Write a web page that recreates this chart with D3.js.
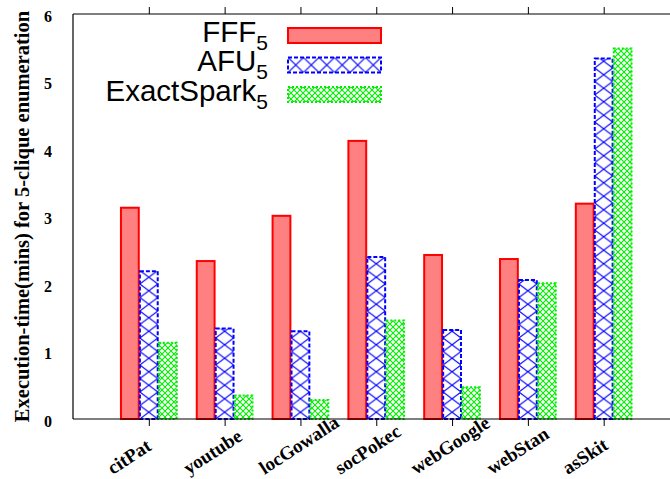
<!DOCTYPE html>
<html>
<head>
<meta charset="utf-8">
<script src="https://cdn.jsdelivr.net/npm/d3@7"></script>
<style>
  html, body { margin: 0; padding: 0; background: #fff; }
  svg { display: block; }
</style>
</head>
<body>
<svg id="chart" width="670" height="479"></svg>
<script>
// Datasets along the x axis
const categories = ["citPat", "youtube", "locGowalla", "socPokec", "webGoogle", "webStan", "asSkit"];
// Execution time in minutes for each method
const fffValues   = [3.13, 2.34, 3.01, 4.12, 2.43, 2.37, 3.19];
const afuValues   = [2.19, 1.34, 1.30, 2.40, 1.32, 2.06, 5.34];
const exactValues = [1.13, 0.35, 0.28, 1.46, 0.47, 2.01, 5.49];
// Legend names (main part + subscript)
const seriesNames = [["FFF", "5"], ["AFU", "5"], ["ExactSpark", "5"]];
const yTicks = [0, 1, 2, 3, 4, 5, 6];
const yLabel = "Execution-time(mins) for 5-clique enumeration";

const svg = d3.select("#chart");
const plotLeft = 73, plotRight = 679.5, plotTop = 14, plotBottom = 419;

const x = d3.scaleLinear().domain([0, 8]).range([plotLeft, plotRight]);
const y = d3.scaleLinear().domain([0, 6]).range([plotBottom, plotTop]);

const barW = x(0.235) - x(0);
const defs = svg.append("defs");

// Cross-hatch pattern anchored at a given origin, one X per cell
function crossPattern(id, ox, oy, w, h, color) {
  const p = defs.append("pattern").attr("id", id)
    .attr("patternUnits", "userSpaceOnUse")
    .attr("x", ox).attr("y", oy).attr("width", w).attr("height", h);
  p.append("rect").attr("width", w).attr("height", h).attr("fill", "#fff");
  p.append("path").attr("d", `M0,0 L${w},${h} M${w},0 L0,${h}`)
    .attr("stroke", color).attr("stroke-width", 1.1).attr("fill", "none");
}

// Fine green mesh shared by all green marks
crossPattern("hatchGreen", 0, 0, 6, 6, "#00ee00");

const series = [
  { key: "fff",   values: fffValues,   offset: -0.25, stroke: "#ff0000", dash: null,  sw: 2,
    fill: () => "#ff8080" },
  { key: "afu",   values: afuValues,   offset: 0,     stroke: "#0000ff", dash: "4,2", sw: 2,
    fill: (d, i) => `url(#hatchBlue${i})` },
  { key: "exact", values: exactValues, offset: 0.25,  stroke: "#00ee00", dash: "2,2", sw: 2,
    fill: () => "url(#hatchGreen)" }
];

// Blue X pattern aligned to each AFU bar so one X spans the bar width
afuValues.forEach((v, i) => {
  crossPattern(`hatchBlue${i}`, x(i + 1) - barW / 2, y(0), barW, 13.5, "#0000ff");
});

// Bars
series.forEach(s => {
  svg.append("g").selectAll("rect")
    .data(s.values)
    .join("rect")
    .attr("x", (d, i) => x(i + 1 + s.offset) - barW / 2)
    .attr("y", d => y(d))
    .attr("width", barW)
    .attr("height", d => y(0) - y(d))
    .attr("fill", (d, i) => s.fill(d, i))
    .attr("stroke", s.stroke)
    .attr("stroke-width", s.sw)
    .attr("stroke-dasharray", s.dash);
});

// Frame lines: left, top, bottom
const frame = svg.append("g").attr("stroke", "#000").attr("stroke-width", 1.2);
frame.append("line").attr("x1", plotLeft).attr("x2", plotLeft).attr("y1", plotTop).attr("y2", plotBottom);
frame.append("line").attr("x1", plotLeft).attr("x2", plotRight).attr("y1", plotTop).attr("y2", plotTop);
frame.append("line").attr("x1", plotLeft).attr("x2", plotRight).attr("y1", plotBottom).attr("y2", plotBottom);

// Category ticks on bottom (outward) and mirrored on top
const catPos = categories.map((c, i) => i + 1);
const gx = svg.append("g").attr("transform", `translate(0,${plotBottom})`)
  .call(d3.axisBottom(x).tickValues(catPos).tickSize(7).tickFormat(() => ""));
gx.select(".domain").remove();
const gxTop = svg.append("g").attr("transform", `translate(0,${plotTop})`)
  .call(d3.axisTop(x).tickValues(catPos).tickSize(7).tickFormat(() => ""));
gxTop.select(".domain").remove();

// Rotated category labels, starting below-left of each tick
svg.append("g").selectAll("text")
  .data(categories)
  .join("text")
  .attr("transform", (d, i) => `translate(${x(i + 1) - 36},${plotBottom + 56}) rotate(-33)`)
  .attr("text-anchor", "start")
  .attr("font-family", "'Liberation Serif', 'Times New Roman', serif")
  .attr("font-weight", "bold")
  .attr("font-size", 19)
  .text(d => d);

// Y tick labels (no tick marks)
const gy = svg.append("g").attr("transform", `translate(${plotLeft},0)`)
  .call(d3.axisLeft(y).tickValues(yTicks).tickSize(0).tickPadding(21).tickFormat(d3.format("d")));
gy.select(".domain").remove();
gy.selectAll("text")
  .attr("font-family", "'Liberation Serif', 'Times New Roman', serif")
  .attr("font-weight", "bold")
  .attr("font-size", 16)
  .attr("fill", "#000")
  .attr("dy", "0.45em");

// Y axis title
svg.append("text")
  .attr("transform", `translate(29,${(plotTop + plotBottom) / 2}) rotate(-90)`)
  .attr("text-anchor", "middle")
  .attr("font-family", "'Liberation Serif', 'Times New Roman', serif")
  .attr("font-weight", "bold")
  .attr("font-size", 20.5)
  .text(yLabel);

// Legend
const legendX = 288, legendW = 93, legendH = 15;
crossPattern("hatchBlueKey", legendX, 0, legendW / 6, 200, "#0000ff");
const keyFills = ["#ff8080", "url(#hatchBlueKey)", "url(#hatchGreen)"];
const legend = svg.append("g");
seriesNames.forEach((nm, i) => {
  const cy = 35.5 + i * 29.5;
  const t = legend.append("text")
    .attr("x", 268).attr("y", cy + 6)
    .attr("text-anchor", "end")
    .attr("font-family", "'Liberation Sans', Arial, sans-serif")
    .attr("font-size", 29.5);
  t.append("tspan").text(nm[0]);
  t.append("tspan").attr("font-size", 21).attr("dy", 8).text(nm[1]);
  const s = series[i];
  if (i === 1) {
    // Key cell for the blue series gets its own X row matching the box height
    defs.select("#hatchBlueKey").attr("y", cy - legendH / 2).attr("height", legendH)
      .select("rect").attr("height", legendH);
    defs.select("#hatchBlueKey").select("path")
      .attr("d", `M0,0 L${legendW / 6},${legendH} M${legendW / 6},0 L0,${legendH}`);
  }
  legend.append("rect")
    .attr("x", legendX).attr("y", cy - legendH / 2)
    .attr("width", legendW).attr("height", legendH)
    .attr("fill", keyFills[i])
    .attr("stroke", s.stroke)
    .attr("stroke-width", s.sw)
    .attr("stroke-dasharray", s.dash);
});
</script>
</body>
</html>
